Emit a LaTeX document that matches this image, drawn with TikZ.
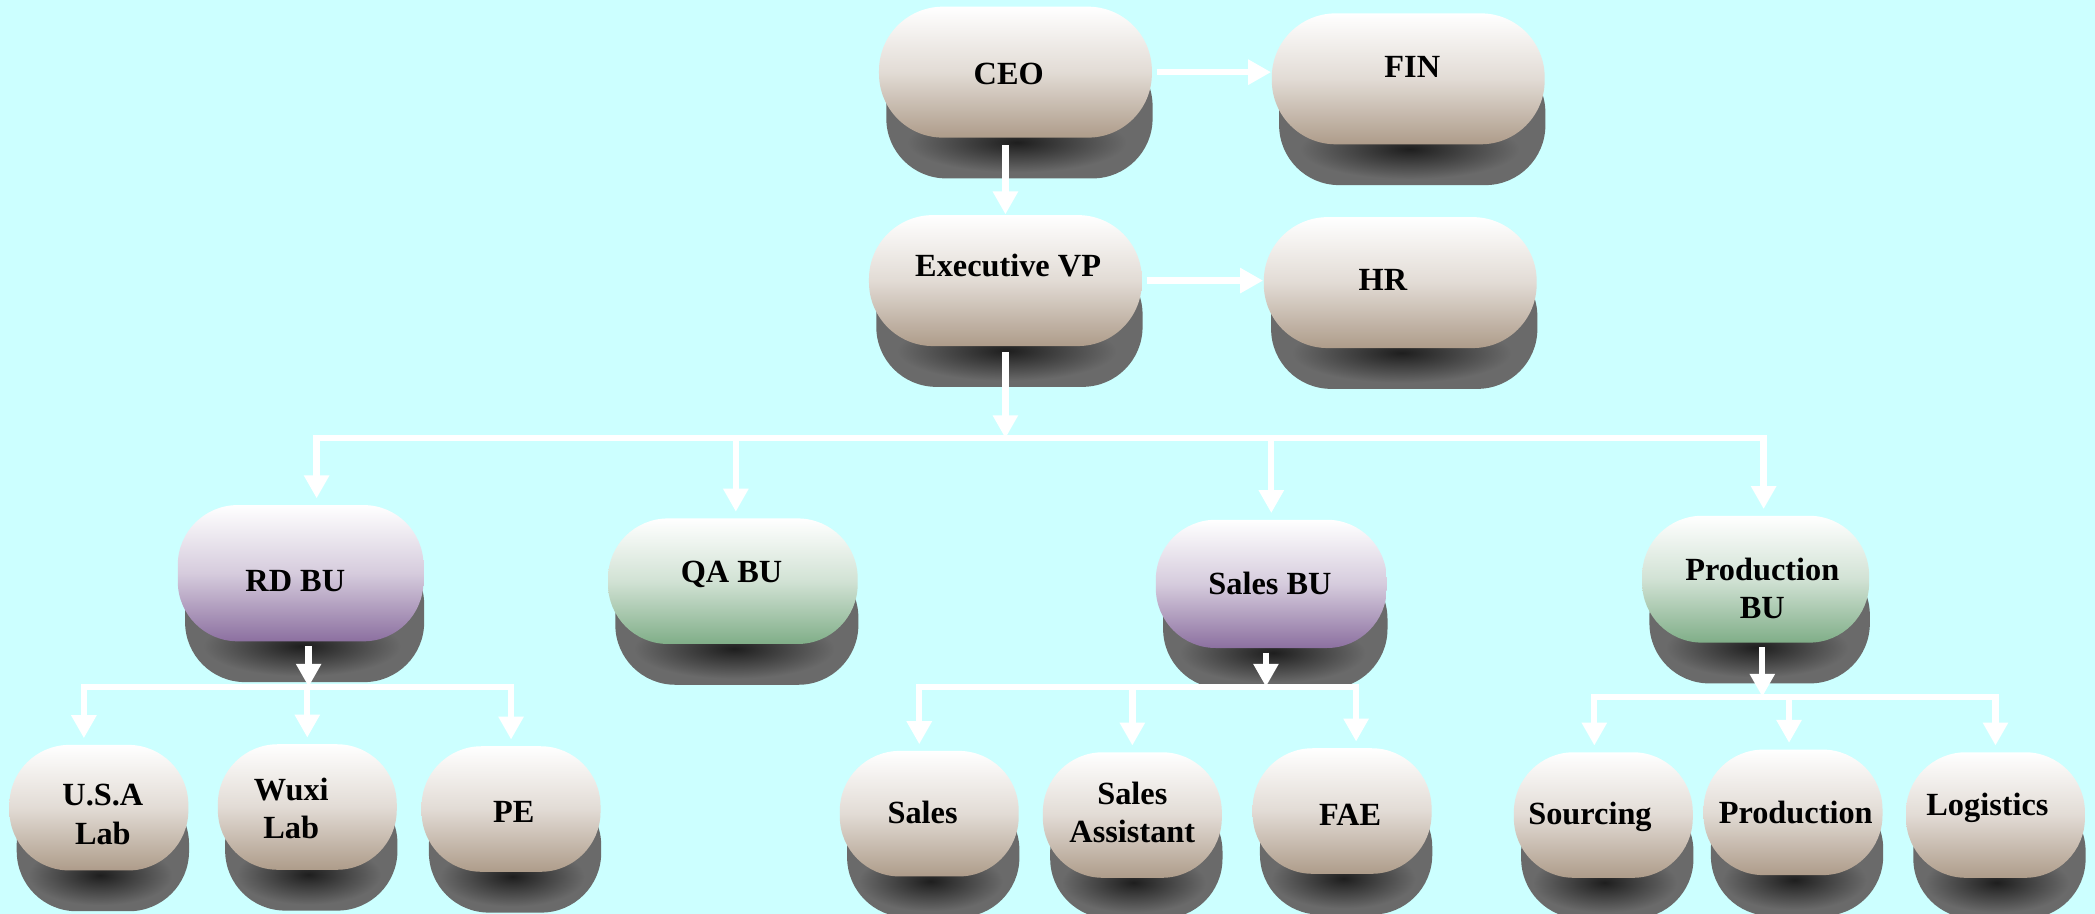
\documentclass[tikz,border=0pt]{standalone}
\usepackage{fontspec}
\setmainfont{Liberation Serif}
\usetikzlibrary{arrows.meta,calc}

\definecolor{bgcyan}{HTML}{CCFFFF}
\definecolor{tanbox}{HTML}{AE9C8A}
\definecolor{plumbox}{HTML}{8C70A0}
\definecolor{sagebox}{HTML}{80AE88}
\definecolor{shadowgray}{HTML}{6A6A6A}
\definecolor{spotgray}{HTML}{1E1E1E}

\pgfdeclarelayer{shade}
\pgfsetlayers{shade,main}

\tikzset{
  pill/.style={rectangle, rounded corners=0.6cm, inner sep=0pt,
    top color=white, bottom color=#1, middle color=#1!36!white},
  bigbox/.style={pill=tanbox, rounded corners=0.64cm,
    minimum width=2.73cm, minimum height=1.31cm},
  leafbox/.style={pill=tanbox, minimum width=1.79cm, minimum height=1.256cm},
  boxtext/.style={font=\bfseries\fontsize{9.2}{11}\selectfont, align=center,
    inner sep=0pt, text=black},
  txt/.style 2 args={label={[boxtext, shift={(#1)}]center:{#2}}},
  link/.style={white, line width=1.8pt},
  drop/.style={link, ->, shorten >=0.06cm},
}

\begin{document}
\begin{tikzpicture}[x=0.01336cm, y=-0.01336cm,
    >={Triangle[width=2.4mm,length=2.3mm]}]
  \useasboundingbox (0,0) rectangle (1568,684);

  % Top management
  \node[bigbox, txt={-5,1}{CEO}] (ceo) at (760,54) {};
  \node[bigbox, txt={3,-9}{FIN}] (fin) at (1054,59) {};
  \node[bigbox, txt={2,-11}{Executive VP}] (evp) at (752.5,210) {};
  \node[bigbox, txt={-13,-2}{HR}] (hr) at (1048,211.5) {};

  % Business units
  \node[pill=plumbox, minimum width=2.458cm, minimum height=1.363cm,
    txt={-4,6}{RD BU}] (rdbu) at (225,429) {};
  \node[pill=sagebox, minimum width=2.498cm, minimum height=1.256cm,
    txt={-1,-5}{QA BU}] (qabu) at (548.5,435) {};
  \node[pill=plumbox, minimum width=2.311cm, minimum height=1.283cm,
    txt={-1,0}{Sales BU}] (salesbu) at (951.5,437) {};
  \node[pill=sagebox, minimum width=2.271cm, minimum height=1.269cm,
    txt={5,7}{Production\\BU}] (prodbu) at (1314,433.5) {};

  % Departments
  \node[leafbox, txt={3,5}{U.S.A\\Lab}] (usa) at (74,604.5) {};
  \node[leafbox, txt={-12,1}{Wuxi\\Lab}] (wuxi) at (230,604) {};
  \node[leafbox, txt={2,2}{PE}] (pe) at (382.5,605.5) {};
  \node[leafbox, txt={-5,-1}{Sales}] (sales) at (695.5,609) {};
  \node[leafbox, txt={0,-2}{Sales\\Assistant}] (assist) at (847.5,610) {};
  \node[leafbox, txt={6,3}{FAE}] (fae) at (1004.5,607) {};
  \node[leafbox, txt={-10,1}{Sourcing}] (sourcing) at (1200,610) {};
  \node[leafbox, txt={2,0}{Production}] (production) at (1342,608) {};
  \node[leafbox, txt={-6,-5}{Logistics}] (logistics) at (1493.5,610) {};

  % Shadows under the boxes
  \begin{pgfonlayer}{shade}
    \fill[bgcyan] (0,0) rectangle (1568,684);
    \foreach \b in {ceo,fin,evp,hr,rdbu,qabu,salesbu,prodbu,usa,wuxi,pe,
        sales,assist,fae,sourcing,production,logistics}{
      \fill[shadowgray, rounded corners=0.6cm]
        ([shift={(6,30)}]\b.north west) rectangle ([shift={(0,30)}]\b.south east);
      \shade[inner color=spotgray, outer color=shadowgray]
        let \p1 = ($(\b.east)-(\b.west)$) in
        ([shift={(1,3)}]\b.south) ellipse [x radius=0.4*\x1, y radius=0.3cm];
    }
  \end{pgfonlayer}

  % Staff lines
  \draw[link, ->, shorten <=0.04cm] (ceo.east) -- (ceo.east -| fin.west);
  \draw[link, ->, shorten <=0.04cm] (evp.east) -- (evp.east -| hr.west);
  \draw[link, ->, shorten <=0.07cm] (ceo.south -| evp.north) -- (evp.north);

  % Executive VP to business units
  \coordinate (hub) at (752.5,328);
  \coordinate (rdin) at ([xshift=0.16cm]rdbu.north);
  \coordinate (qain) at ([xshift=0.03cm]qabu.north);
  \coordinate (prodin) at ([xshift=0.08cm]prodbu.north);
  \draw[link, ->, shorten <=0.05cm] (evp.south) -- (hub);
  \draw[link, line cap=rect] (rdin |- hub) -- (prodin |- hub);
  \foreach \t in {rdin, qain, salesbu.north, prodin}
    \draw[drop] (\t |- hub) -- (\t);

  % RD BU
  \coordinate (rdhub) at (231,514);
  \coordinate (usain) at ([xshift=-0.15cm]usa.north);
  \draw[link, ->, shorten <=0.04cm] (rdbu.south -| rdhub) -- (rdhub);
  \draw[link, line cap=rect] (usain |- rdhub) -- (pe.north |- rdhub);
  \foreach \t in {usain, wuxi.north, pe.north}
    \draw[drop] (\t |- rdhub) -- (\t);

  % Sales BU
  \coordinate (saleshub) at (947.5,514);
  \coordinate (salesin) at ([xshift=-0.1cm]sales.north);
  \coordinate (faein) at ([xshift=0.14cm]fae.north);
  \draw[link, ->, shorten <=0.04cm] (salesbu.south -| saleshub) -- (saleshub);
  \draw[link, line cap=rect] (salesin |- saleshub) -- (faein |- saleshub);
  \foreach \t in {salesin, assist.north, faein}
    \draw[drop] (\t |- saleshub) -- (\t);

  % Production BU
  \coordinate (prodhub) at (1319,521.5);
  \coordinate (sourcein) at ([xshift=-0.09cm]sourcing.north);
  \coordinate (productin) at ([xshift=-0.04cm]production.north);
  \draw[link, ->, shorten <=0.04cm] (prodbu.south -| prodhub) -- (prodhub);
  \draw[link, line cap=rect] (sourcein |- prodhub) -- (logistics.north |- prodhub);
  \foreach \t in {sourcein, productin, logistics.north}
    \draw[drop] (\t |- prodhub) -- (\t);
\end{tikzpicture}
\end{document}
